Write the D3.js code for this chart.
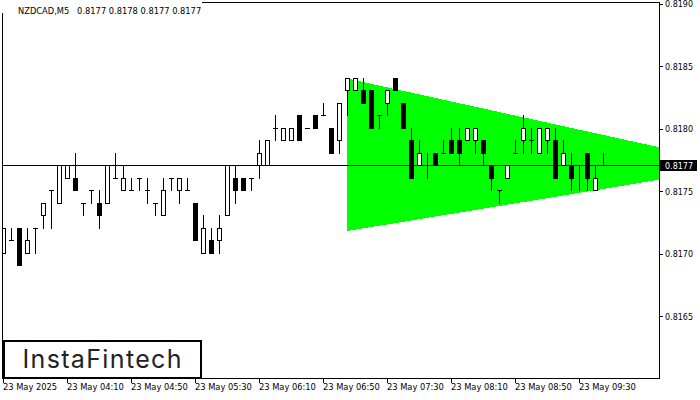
<!DOCTYPE html>
<html><head><meta charset="utf-8">
<script src="https://cdn.jsdelivr.net/npm/d3@7"></script>
<style>
html,body{margin:0;padding:0;background:#fff;}
svg{display:block;}
text{font-family:"DejaVu Sans",sans-serif;}
</style></head><body>
<svg id="c" width="700" height="400"></svg>
<script>
// ---------- data ----------
const symbol = "NZDCAD,M5";
const opens  = [0.8170,0.8171,0.8172,0.8170,0.8172,0.8173,0.8175,0.8174,0.8176,0.8176,
                0.8174,0.8175,0.8174,0.8174,0.8176,0.8175,0.8175,0.8176,0.8175,0.8174,
                0.8173,0.8176,0.8175,0.8175,0.8174,0.8170,0.8171,0.8171,0.8173,0.8176,
                0.8176,0.8176,0.8177,0.8177,0.8180,0.8179,0.8179,0.8181,0.8180,0.8181,
                0.8181,0.8180,0.8179,0.8183,0.8183,0.8183,0.8183,0.8181,0.8182,0.8184,
                0.8182,0.8179,0.8177,0.8177,0.8178,0.8178,0.8179,0.8179,0.8179,0.8179,
                0.8179,0.8177,0.8175,0.8176,0.8178,0.8179,0.8179,0.8178,0.8179,0.8179,
                0.8177,0.8177,0.8177,0.8178,0.8175,0.8177];
const highs  = [0.8172,0.8172,0.8172,0.8172,0.8172,0.8174,0.8175,0.8177,0.8177,0.8178,
                0.8174,0.8175,0.8175,0.8177,0.8178,0.8177,0.8176,0.8176,0.8176,0.8174,
                0.8176,0.8176,0.8176,0.8176,0.8174,0.8173,0.8172,0.8173,0.8177,0.8177,
                0.8176,0.8176,0.8179,0.8179,0.8181,0.8180,0.8180,0.8181,0.8180,0.8181,
                0.8182,0.8180,0.8182,0.8184,0.8184,0.8184,0.8183,0.8181,0.8183,0.8184,
                0.8182,0.8180,0.8179,0.8178,0.8178,0.8179,0.8180,0.8180,0.8180,0.8180,
                0.8179,0.8177,0.8175,0.8177,0.8179,0.8181,0.8180,0.8180,0.8180,0.8180,
                0.8179,0.8178,0.8177,0.8178,0.8177,0.8178];
const lows   = [0.8170,0.8171,0.8169,0.8170,0.8170,0.8172,0.8172,0.8174,0.8176,0.8175,
                0.8173,0.8174,0.8172,0.8174,0.8176,0.8175,0.8175,0.8175,0.8174,0.8173,
                0.8173,0.8175,0.8174,0.8175,0.8171,0.8170,0.8170,0.8170,0.8173,0.8174,
                0.8175,0.8175,0.8176,0.8177,0.8179,0.8179,0.8179,0.8179,0.8180,0.8180,
                0.8181,0.8178,0.8178,0.8181,0.8183,0.8182,0.8180,0.8180,0.8181,0.8183,
                0.8180,0.8176,0.8177,0.8176,0.8177,0.8178,0.8178,0.8177,0.8179,0.8178,
                0.8177,0.8175,0.8174,0.8176,0.8178,0.8178,0.8178,0.8178,0.8178,0.8176,
                0.8177,0.8175,0.8175,0.8175,0.8175,0.8177];
const closes = [0.8172,0.8171,0.8169,0.8171,0.8172,0.8174,0.8175,0.8177,0.8177,0.8175,
                0.8174,0.8175,0.8173,0.8177,0.8176,0.8176,0.8175,0.8176,0.8175,0.8174,
                0.8175,0.8176,0.8176,0.8175,0.8171,0.8172,0.8170,0.8172,0.8177,0.8175,
                0.8175,0.8176,0.8178,0.8179,0.8180,0.8180,0.8180,0.8179,0.8180,0.8180,
                0.8181,0.8178,0.8182,0.8184,0.8184,0.8182,0.8180,0.8181,0.8183,0.8183,
                0.8180,0.8176,0.8178,0.8177,0.8177,0.8178,0.8178,0.8178,0.8180,0.8180,
                0.8178,0.8176,0.8175,0.8177,0.8178,0.8180,0.8179,0.8180,0.8180,0.8176,
                0.8178,0.8176,0.8177,0.8176,0.8176,0.8177];
const timeTickBars = [0,8,16,24,32,40,48,56,64,72];
const timeLabels = ["23 May 2025","23 May 04:10","23 May 04:50","23 May 05:30","23 May 06:10",
                    "23 May 06:50","23 May 07:30","23 May 08:10","23 May 08:50","23 May 09:30"];
const priceTicks = [0.8165,0.8170,0.8175,0.8180,0.8185,0.8190];
const currentPrice = 0.8177;
// symmetrical triangle pattern (bar index, upper edge, lower edge)
const triBars  = [43, 82];
const triUpper = [0.8184, 0.81785];
const triLower = [0.81718, 0.81759];
const brand = "InstaFintech";

// ---------- drawing ----------
const svg = d3.select("#c");
const fmt = d3.format(".4f");
const x = d3.scaleLinear().domain([0, 82]).range([3, 659]);
const y = d3.scaleLinear().domain([0.8160, 0.8190]).range([378.5, 3.5]);
const col = i => Math.round(x(i));
const row = p => Math.floor(y(p));

svg.append("rect").attr("width",700).attr("height",400).attr("fill","#fff");

const defs = svg.append("defs");
defs.append("clipPath").attr("id","plotclip").append("rect")
  .attr("x",3).attr("y",3).attr("width",656).attr("height",375);

const plot = svg.append("g").attr("clip-path","url(#plotclip)").attr("shape-rendering","crispEdges");

// triangle
const triPts = [[triBars[0],triUpper[0]],[triBars[1],triUpper[1]],[triBars[1],triLower[1]],[triBars[0],triLower[0]]];
plot.append("polygon")
  .attr("points", triPts.map(d => [x(d[0]), y(d[1])].join(",")).join(" "))
  .attr("fill","#00ff00");

// current price line
plot.append("line")
  .attr("x1",2).attr("x2",660)
  .attr("y1",row(currentPrice)+0.5).attr("y2",row(currentPrice)+0.5)
  .attr("stroke","#000").attr("stroke-width",1);

// candles
const bars = opens.map((o,i)=>({i,o,h:highs[i],l:lows[i],c:closes[i]}));
const cg = plot.selectAll("g.candle").data(bars).join("g").attr("class","candle");
cg.append("rect")
  .attr("x", d => col(d.i)).attr("width",1)
  .attr("y", d => row(d.h)).attr("height", d => row(d.l)-row(d.h)+1)
  .attr("fill","#000");
cg.each(function(d){
  const g = d3.select(this);
  const top = row(Math.max(d.o,d.c)), bot = row(Math.min(d.o,d.c));
  const cx = col(d.i);
  if (d.o === d.c) {
    g.append("rect").attr("x",cx-2).attr("width",5).attr("y",top).attr("height",1).attr("fill","#000");
  } else if (d.c > d.o) {
    g.append("rect").attr("x",cx-1.5).attr("width",4).attr("y",top+0.5).attr("height",bot-top)
      .attr("fill","#fff").attr("stroke","#000").attr("stroke-width",1);
  } else {
    g.append("rect").attr("x",cx-2).attr("width",5).attr("y",top).attr("height",bot-top+1).attr("fill","#000");
  }
});

// frame
svg.append("rect").attr("x",2.5).attr("y",2.5).attr("width",657).attr("height",376)
  .attr("fill","none").attr("stroke","#000").attr("stroke-width",1).attr("shape-rendering","crispEdges");

// price axis
const yAxis = d3.axisRight(y).tickValues(priceTicks).tickFormat(fmt).tickSize(3).tickSizeOuter(0).offset(0.5);
const ya = svg.append("g").attr("transform","translate(660,0)").call(yAxis);
ya.select(".domain").remove();
ya.selectAll("line").attr("stroke","#000").attr("shape-rendering","crispEdges");
ya.selectAll("text").attr("x",5).attr("dy",3).attr("fill","#000")
  .style("font-family","DejaVu Sans").style("font-size","8px");

// time axis
const xAxis = d3.axisBottom(x).tickValues(timeTickBars).tickFormat((d,i)=>timeLabels[i]).tickSize(5).tickSizeOuter(0).offset(0.5);
const xa = svg.append("g").attr("transform","translate(0,378)").call(xAxis);
xa.select(".domain").remove();
xa.selectAll("line").attr("stroke","#000").attr("shape-rendering","crispEdges");
xa.selectAll("text").attr("text-anchor","start").attr("x",-0.5).attr("y",12).attr("dy",0).attr("fill","#000")
  .style("font-family","DejaVu Sans").style("font-size","8.3px");

// current price label
svg.append("rect").attr("x",660).attr("y",row(currentPrice)-5).attr("width",37).attr("height",11).attr("fill","#000");
svg.append("text").attr("x",665).attr("y",row(currentPrice)+4).attr("fill","#fff")
  .style("font-size","8px").text(fmt(currentPrice));

// header
svg.append("rect").attr("x",0).attr("y",0).attr("width",202).attr("height",13).attr("fill","#fff");
const n = opens.length-1;
svg.append("text").attr("x",18).attr("y",14).attr("fill","#000")
  .style("font-size","8.3px").style("white-space","pre")
  .text(`${symbol}   ${fmt(opens[n])} ${fmt(highs[n])} ${fmt(lows[n])} ${fmt(closes[n])}`);

// logo
svg.append("rect").attr("x",4).attr("y",341).attr("width",197).attr("height",37)
  .attr("fill","#fff").attr("stroke","#000").attr("stroke-width",2).attr("shape-rendering","crispEdges");
svg.append("text").attr("x",22.5).attr("y",367.5).attr("fill","#222")
  .style("font-family","Inter, 'Open Sans', sans-serif").style("font-size","25px").style("font-weight","400")
  .attr("textLength",159).attr("lengthAdjust","spacing")
  .text(brand);
</script>
</body></html>
